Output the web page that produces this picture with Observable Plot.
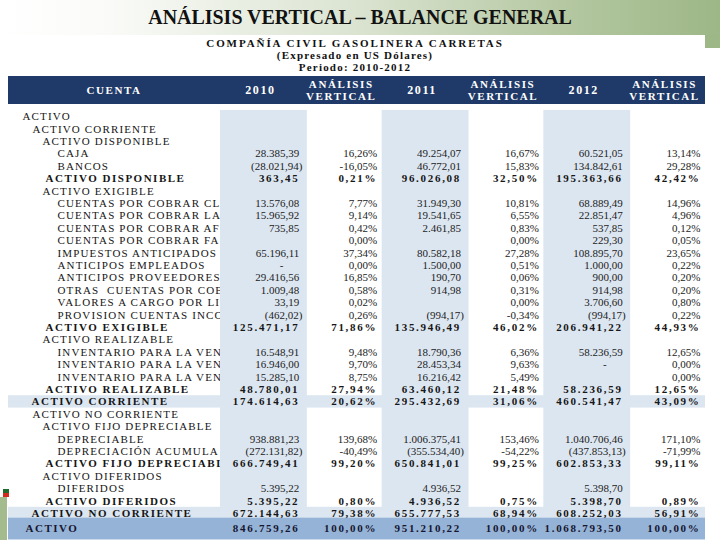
<!DOCTYPE html>
<html>
<head>
<meta charset="utf-8">
<script src="https://cdn.jsdelivr.net/npm/d3@7"></script>
<script src="https://cdn.jsdelivr.net/npm/@observablehq/plot@0.6"></script>
<style>
body{margin:0;background:#fff}
#page{position:relative;width:720px;height:540px;overflow:hidden;background:#fff;font-family:"Liberation Serif","Times New Roman",serif;color:#111}
#band{position:absolute;left:0;top:0;width:720px;height:35px;background:linear-gradient(90deg,#ffffff 0%,#fafbf8 15%,#dae3d0 50%,#b2c69f 80%,#9db787 100%)}
#bandR{position:absolute;left:705px;top:35px;width:15px;height:13px;background:#9db787}
#title{position:absolute;left:0;top:4px;width:720px;text-align:center;font-weight:bold;font-size:21px;line-height:26px;transform:scaleX(0.95);color:#111}
.sub{position:absolute;left:0;width:710px;text-align:center;font-weight:bold;font-size:11px;letter-spacing:1.2px;line-height:12px;color:#111}
#header{position:absolute;left:8px;top:76px;width:697px;height:28px;background:#1f3a68}
.h{position:absolute;top:0;height:28px;display:flex;align-items:center;justify-content:center;text-align:center;color:#fff;font-weight:bold;font-size:11px;letter-spacing:1.6px;line-height:12px;white-space:pre-line}
#chart{position:absolute;left:0;top:104px}
#chart [aria-description="lbl"] text{letter-spacing:1.15px}
#chart [aria-description="lbl-bold"] text{letter-spacing:1.5px}
#chart [aria-description="val-bold"] text{letter-spacing:1.7px}
#icoG{position:absolute;left:3px;top:489px;width:6px;height:4px;background:#1e6b2e}
#icoR{position:absolute;left:3px;top:493px;width:6px;height:4px;background:#d42a1e}
#barL{position:absolute;left:0;top:497px;width:7px;height:43px;background:#a3bb8d}
</style>
</head>
<body>
<div id="page">
  <div id="band"></div>
  <div id="bandR"></div>
  <div id="title">ANÁLISIS VERTICAL – BALANCE GENERAL</div>
  <div class="sub" style="top:37px;letter-spacing:1.9px">COMPAÑÍA CIVIL GASOLINERA CARRETAS</div>
  <div class="sub" style="top:49px">(Expresado en US Dólares)</div>
  <div class="sub" style="top:61px">Periodo: 2010-2012</div>
  <div id="header"></div>
  <div id="chart"></div>
  <div id="icoG"></div>
  <div id="icoR"></div>
  <div id="barL"></div>
</div>
<script>
// ---- data ----
const labels = [
  "ACTIVO","ACTIVO CORRIENTE","ACTIVO DISPONIBLE","CAJA","BANCOS","ACTIVO DISPONIBLE",
  "ACTIVO EXIGIBLE","CUENTAS POR COBRAR CL","CUENTAS POR COBRAR LA","CUENTAS POR COBRAR AF",
  "CUENTAS POR COBRAR FA","IMPUESTOS ANTICIPADOS","ANTICIPOS EMPLEADOS","ANTICIPOS PROVEEDORES",
  "OTRAS  CUENTAS POR COB","VALORES A CARGO POR LI","PROVISION CUENTAS INCO","ACTIVO EXIGIBLE",
  "ACTIVO REALIZABLE","INVENTARIO PARA LA VEN","INVENTARIO PARA LA VEN","INVENTARIO PARA LA VEN",
  "ACTIVO REALIZABLE","ACTIVO CORRIENTE","ACTIVO NO CORRIENTE","ACTIVO FIJO DEPRECIABLE",
  "DEPRECIABLE","DEPRECIACIÓN ACUMULA","ACTIVO FIJO DEPRECIABL","ACTIVO DIFERIDOS","DIFERIDOS",
  "ACTIVO DIFERIDOS","ACTIVO NO CORRIENTE","ACTIVO"
];
const kinds = [
  "g0","g1","g2","item","item","sub",
  "g2","item","item","item",
  "item","item","item","item",
  "item","item","item","sub",
  "g2","item","item","item",
  "sub","tot","g1","g2",
  "item","item","sub","g2","item",
  "sub","tot","grand"
];
const v2010 = [null,null,null,28385.39,-28021.94,363.45,null,13576.08,15965.92,735.85,null,65196.11,0,29416.56,1009.48,33.19,-462.02,125471.17,null,16548.91,16946.00,15285.10,48780.01,174614.63,null,null,938881.23,-272131.82,666749.41,null,5395.22,5395.22,672144.63,846759.26];
const p2010 = [null,null,null,16.26,-16.05,0.21,null,7.77,9.14,0.42,0.00,37.34,0.00,16.85,0.58,0.02,0.26,71.86,null,9.48,9.70,8.75,27.94,20.62,null,null,139.68,-40.49,99.20,null,null,0.80,79.38,100.00];
const v2011 = [null,null,null,49254.07,46772.01,96026.08,null,31949.30,19541.65,2461.85,null,80582.18,1500.00,190.70,914.98,null,-994.17,135946.49,null,18790.36,28453.34,16216.42,63460.12,295432.69,null,null,1006375.41,-355534.40,650841.01,null,4936.52,4936.52,655777.53,951210.22];
const p2011 = [null,null,null,16.67,15.83,32.50,null,10.81,6.55,0.83,0.00,27.28,0.51,0.06,0.31,0.00,-0.34,46.02,null,6.36,9.63,5.49,21.48,31.06,null,null,153.46,-54.22,99.25,null,null,0.75,68.94,100.00];
const v2012 = [null,null,null,60521.05,134842.61,195363.66,null,68889.49,22851.47,537.85,229.30,108895.70,1000.00,900.00,914.98,3706.60,-994.17,206941.22,null,58236.59,0,null,58236.59,460541.47,null,null,1040706.46,-437853.13,602853.33,null,5398.70,5398.70,608252.03,1068793.50];
const p2012 = [null,null,null,13.14,29.28,42.42,null,14.96,4.96,0.12,0.05,23.65,0.22,0.20,0.20,0.80,0.22,44.93,null,12.65,0.00,0.00,12.65,43.09,null,null,171.10,-71.99,99.11,null,null,0.89,56.91,100.00];
const cols = ["2010","AV2010","2011","AV2011","2012","AV2012"];
const colHeads = ["2010","ANÁLISIS\nVERTICAL","2011","ANÁLISIS\nVERTICAL","2012","ANÁLISIS\nVERTICAL"];
const firstHead = "CUENTA";
const shadedCols = ["2010","2011","2012"];

// ---- build tables ----
const seriesCols = [v2010,p2010,v2011,p2011,v2012,p2012];
function money(n){
  if (n === 0) return "-";
  const [a,b] = Math.abs(n).toFixed(2).split(".");
  const s = a.replace(/\B(?=(\d{3})+(?!\d))/g,".") + "," + b;
  return n < 0 ? "(" + s + ")" : s;
}
function pct(n){ return (n < 0 ? "-" : "") + Math.abs(n).toFixed(2).replace(".", ",") + "%"; }
const boldKinds = new Set(["sub","tot","grand"]);
const rows = labels.map((label,i) => ({i, label, kind: kinds[i]}));
const cells = [];
rows.forEach(r => {
  cols.forEach((c,j) => {
    const v = seriesCols[j][r.i];
    if (v == null) return;
    const isPct = j % 2 === 1;
    const fmt = isPct ? "pct" : (v < 0 ? "paren" : (v === 0 ? "dash" : "num"));
    cells.push({i: r.i, col: c, txt: isPct ? pct(v) : money(v),
      bold: boldKinds.has(r.kind), grand: r.kind === "grand", fmt});
  });
});

// ---- layout ----
const W = 720, H = 436, mL = 8, mR = 15;
const xRange = [220, W - mR];
const bw = (xRange[1] - xRange[0]) / cols.length;
const endDx = bw / 2 - 2;
const fmtDx = {num: 0, paren: 3, dash: -16, pct: -3};
const indent = {g0:14, g1:24, g2:34, item:49, sub:37, tot:23, grand:17};
const grandDy = 2.6;

const labelMarks = Object.keys(indent).filter(k => k !== "grand").map(k =>
  Plot.text(rows.filter(r => r.kind === k), {
    y: "i", text: "label", frameAnchor: "left", textAnchor: "start", dx: indent[k],
    fontWeight: boldKinds.has(k) ? "bold" : "normal", fill: "#161616",
    ariaDescription: boldKinds.has(k) ? "lbl-bold" : "lbl"
  }));

const valueMarks = Array.from(d3.group(cells, d => d.fmt + "|" + d.bold + "|" + d.grand), ([key, arr]) => {
  const {fmt, bold, grand} = arr[0];
  return Plot.text(arr, {
    x: "col", y: "i", text: "txt", textAnchor: "end",
    dx: endDx + fmtDx[fmt], dy: grand ? grandDy : 0,
    fontWeight: bold ? "bold" : "normal",
    fill: grand ? "#161630" : (bold ? "#161616" : "#222"),
    ariaDescription: bold ? "val-bold" : "val"
  });
});

const chart = Plot.plot({
  width: W, height: H,
  marginLeft: mL, marginRight: mR, marginTop: 6, marginBottom: 8.4,
  style: {background: "transparent", fontFamily: "'Liberation Serif','Times New Roman',serif", fontSize: "11px", color: "#161616"},
  x: {type: "band", domain: cols, range: xRange, padding: 0, round: false, axis: null},
  y: {type: "band", domain: d3.range(labels.length), padding: 0, round: false, axis: null},
  marks: [
    Plot.cell(rows.filter(r => r.kind === "tot"), {y: "i", fill: "#dce6f1"}),
    ...labelMarks,
    Plot.cell(shadedCols, {x: d => d, fill: "#dce6f1", insetRight: -6}),
    Plot.cell(rows.filter(r => r.kind === "grand"), {y: "i", fill: "#95b3d7", insetTop: -1.5, insetBottom: -7.9}),
    Plot.text(rows.filter(r => r.kind === "grand"), {y: "i", text: "label", frameAnchor: "left", textAnchor: "start",
      dx: indent.grand, dy: grandDy, fontWeight: "bold", fill: "#161630", ariaDescription: "lbl-bold"}),
    ...valueMarks
  ]
});
document.getElementById("chart").appendChild(chart);

// ---- header positioned with the plot's x scale ----
const xs = chart.scale("x");
const header = document.getElementById("header");
const hx0 = 8;
function addHead(txt, left, width, size){
  const d = document.createElement("div");
  d.className = "h";
  d.textContent = txt;
  d.style.left = (left - hx0) + "px";
  d.style.width = width + "px";
  if (size) d.style.fontSize = size;
  header.appendChild(d);
}
addHead(firstHead, mL, xs.range[0] - mL, "11px");
cols.forEach((c,j) => addHead(colHeads[j], xs.apply(c), xs.bandwidth, j % 2 === 0 ? "12px" : "11px"));
</script>
</body>
</html>
